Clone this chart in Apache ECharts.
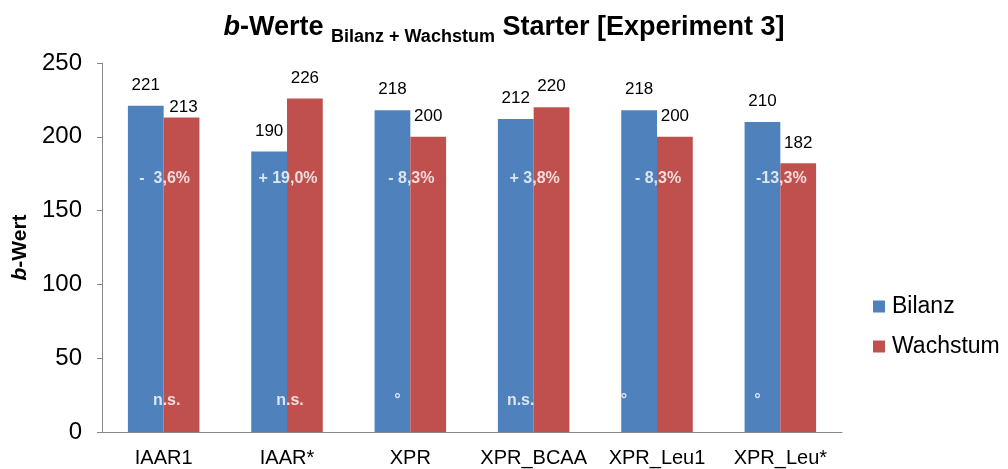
<!DOCTYPE html>
<html>
<head>
<meta charset="utf-8">
<script src="https://cdn.jsdelivr.net/npm/echarts@6/dist/echarts.min.js"></script>
<style>
	html, body { margin: 0; padding: 0; background: #fff; }
	#Chart { width: 1008px; height: 469px; }
</style>
</head>
<body>
<div id="Chart"></div>
<script>
var categories = ['IAAR1', 'IAAR*', 'XPR', 'XPR_BCAA', 'XPR_Leu1', 'XPR_Leu*'];
var bilanz = [221, 190, 218, 212, 218, 210];
var wachstum = [213, 226, 200, 220, 200, 182];
var changeLabels = ['-  3,6%', '+ 19,0%', '- 8,3%', '+ 3,8%', '- 8,3%', '-13,3%'];
var sigLabels = ['n.s.', 'n.s.', '°', 'n.s.', '°', '°'];
var sigShift = [3, 3, -13, -13, -33, -23];

var dom = document.getElementById('Chart');
var myChart = echarts.init(dom);
var font = 'Liberation Sans, Arial, sans-serif';

option = {
	animation: false,
	textStyle: { fontFamily: font },
	title: {
		left: 'center',
		top: 5,
		text: '{i|b}{n|-Werte }{s|Bilanz + Wachstum}{n| Starter [Experiment 3]}',
		textStyle: {
			rich: {
				i: { fontFamily: font, fontSize: 27, fontWeight: 'bold', fontStyle: 'italic', color: '#000', verticalAlign: 'bottom', lineHeight: 31 },
				n: { fontFamily: font, fontSize: 27, fontWeight: 'bold', color: '#000', verticalAlign: 'bottom', lineHeight: 31 },
				s: { fontFamily: font, fontSize: 18, fontWeight: 'bold', color: '#000', verticalAlign: 'bottom', lineHeight: 22, padding: [0, 0, -5, 0] }
			}
		}
	},
	legend: {
		orient: 'vertical',
		left: 868,
		top: 290,
		itemWidth: 12,
		itemHeight: 12,
		itemGap: 17,
		icon: 'rect',
		data: ['Bilanz', 'Wachstum'],
		textStyle: { fontFamily: font, fontSize: 23, color: '#000', padding: [0, 0, 0, 2] }
	},
	grid: { left: 102, right: 166, top: 63, bottom: 37 },
	xAxis: [{
		type: 'category',
		data: categories,
		axisLine: { lineStyle: { color: '#868686' } },
		axisTick: { length: 5, lineStyle: { color: '#868686' } },
		axisLabel: { fontFamily: font, fontSize: 20, color: '#000', margin: 16, interval: 0 }
	}],
	yAxis: [{
		type: 'value',
		min: 0,
		max: 250,
		interval: 50,
		name: '{i|b}{n|-Wert}',
		nameLocation: 'middle',
		nameGap: 70,
		nameTextStyle: {
			rich: {
				i: { fontFamily: font, fontSize: 21, fontWeight: 'bold', fontStyle: 'italic', color: '#000' },
				n: { fontFamily: font, fontSize: 21, fontWeight: 'bold', color: '#000' }
			}
		},
		splitLine: { show: false },
		axisLine: { show: true, lineStyle: { color: '#868686' } },
		axisTick: { show: true, length: 5, lineStyle: { color: '#868686' } },
		axisLabel: { fontFamily: font, fontSize: 24, color: '#000', margin: 20 }
	}],
	series: [{
		name: 'Bilanz',
		type: 'bar',
		data: bilanz,
		barGap: '0%',
		barCategoryGap: '42%',
		itemStyle: { color: '#4F81BD' },
		label: { show: true, position: 'top', distance: 12, fontFamily: font, fontSize: 17, color: '#000' }
	}, {
		name: 'Wachstum',
		type: 'bar',
		data: wachstum.map(function(v, i) {
			if (i === 0) return { value: v, label: { offset: [2, 10] } };
			return v;
		}),
		itemStyle: { color: '#C0504D' },
		label: { show: true, position: 'top', distance: 12, fontFamily: font, fontSize: 17, color: '#000' }
	}, {
		name: 'change',
		type: 'scatter',
		z: 5,
		silent: true,
		symbolSize: 1,
		itemStyle: { color: 'rgba(0,0,0,0)' },
		data: changeLabels.map(function(t) { return 172; }),
		label: {
			show: true,
			position: 'inside',
			offset: [1, 0],
			formatter: function(p) { return changeLabels[p.dataIndex]; },
			fontFamily: font, fontSize: 16, fontWeight: 'bold', color: '#fff',
			textBorderWidth: 0, textShadowBlur: 0
		}
	}, {
		name: 'sig',
		type: 'scatter',
		z: 5,
		silent: true,
		symbolSize: 1,
		itemStyle: { color: 'rgba(0,0,0,0)' },
		data: sigLabels.map(function(t, i) {
			return { value: 21, label: { offset: [sigShift[i], 0] } };
		}),
		label: {
			show: true,
			position: 'inside',
			formatter: function(p) { return sigLabels[p.dataIndex]; },
			fontFamily: font, fontSize: 16, fontWeight: 'bold', color: '#fff',
			textBorderWidth: 0, textShadowBlur: 0
		}
	}]
};
if (option && typeof option === 'object') {
	myChart.setOption(option, true);
}
</script>
</body>
</html>
